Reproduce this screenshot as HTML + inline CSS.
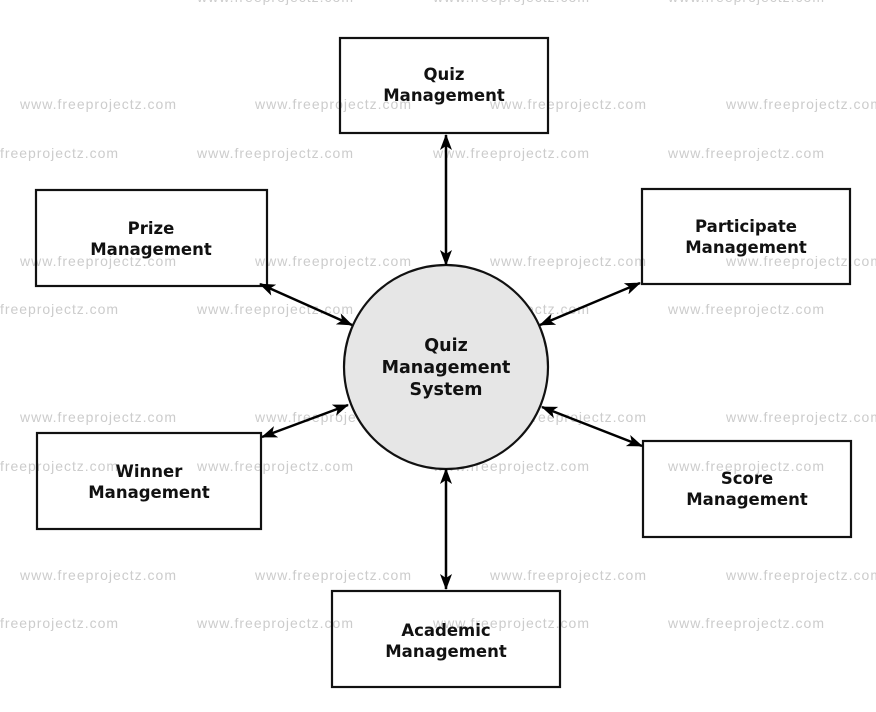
<!DOCTYPE html>
<html><head><meta charset="utf-8"><style>
html,body{margin:0;padding:0;background:#fff;}
svg{display:block;}
.wm{font-family:"Liberation Sans",sans-serif;font-size:14px;fill:#cccccc;}
.lb{font-family:"DejaVu Sans","Liberation Sans",sans-serif;font-weight:bold;font-size:16.5px;fill:#111;text-anchor:middle;}
</style></head><body>
<svg width="876" height="712" viewBox="0 0 876 712" xmlns="http://www.w3.org/2000/svg">
<defs>
<marker id="b" viewBox="0 0 16 12" refX="15" refY="6" markerWidth="16" markerHeight="12" orient="auto-start-reverse" markerUnits="userSpaceOnUse">
<path d="M0,0 L16,6 L0,12 L4,6 z" fill="#000"/></marker>
</defs>
<g class="wm">
<text x="197" y="2" textLength="156">www.freeprojectz.com</text>
<text x="433" y="2" textLength="156">www.freeprojectz.com</text>
<text x="668" y="2" textLength="156">www.freeprojectz.com</text>
<text x="20" y="109" textLength="156">www.freeprojectz.com</text>
<text x="255" y="109" textLength="156">www.freeprojectz.com</text>
<text x="490" y="109" textLength="156">www.freeprojectz.com</text>
<text x="726" y="109" textLength="156">www.freeprojectz.com</text>
<text x="0" y="158" textLength="118">freeprojectz.com</text>
<text x="197" y="158" textLength="156">www.freeprojectz.com</text>
<text x="433" y="158" textLength="156">www.freeprojectz.com</text>
<text x="668" y="158" textLength="156">www.freeprojectz.com</text>
<text x="20" y="266" textLength="156">www.freeprojectz.com</text>
<text x="255" y="266" textLength="156">www.freeprojectz.com</text>
<text x="490" y="266" textLength="156">www.freeprojectz.com</text>
<text x="726" y="266" textLength="156">www.freeprojectz.com</text>
<text x="0" y="314" textLength="118">freeprojectz.com</text>
<text x="197" y="314" textLength="156">www.freeprojectz.com</text>
<text x="433" y="314" textLength="156">www.freeprojectz.com</text>
<text x="668" y="314" textLength="156">www.freeprojectz.com</text>
<text x="20" y="422" textLength="156">www.freeprojectz.com</text>
<text x="255" y="422" textLength="156">www.freeprojectz.com</text>
<text x="490" y="422" textLength="156">www.freeprojectz.com</text>
<text x="726" y="422" textLength="156">www.freeprojectz.com</text>
<text x="0" y="471" textLength="118">freeprojectz.com</text>
<text x="197" y="471" textLength="156">www.freeprojectz.com</text>
<text x="433" y="471" textLength="156">www.freeprojectz.com</text>
<text x="668" y="471" textLength="156">www.freeprojectz.com</text>
<text x="20" y="580" textLength="156">www.freeprojectz.com</text>
<text x="255" y="580" textLength="156">www.freeprojectz.com</text>
<text x="490" y="580" textLength="156">www.freeprojectz.com</text>
<text x="726" y="580" textLength="156">www.freeprojectz.com</text>
<text x="0" y="628" textLength="118">freeprojectz.com</text>
<text x="197" y="628" textLength="156">www.freeprojectz.com</text>
<text x="433" y="628" textLength="156">www.freeprojectz.com</text>
<text x="668" y="628" textLength="156">www.freeprojectz.com</text>
</g>
<g fill="none" stroke="#111" stroke-width="2.2">
<rect x="340" y="38" width="208" height="95"/>
<rect x="36" y="190" width="231" height="96"/>
<rect x="642" y="189" width="208" height="95"/>
<rect x="37" y="433" width="224" height="96"/>
<rect x="643" y="441" width="208" height="96"/>
<rect x="332" y="591" width="228" height="96"/>
</g>
<circle cx="446" cy="367" r="102" fill="#e6e6e6" stroke="#111" stroke-width="2.2"/>
<g stroke="#000" stroke-width="2.5" marker-start="url(#b)" marker-end="url(#b)">
<line x1="446" y1="135" x2="446" y2="265"/>
<line x1="446" y1="469" x2="446" y2="589"/>
<line x1="260" y1="284" x2="352" y2="325"/>
<line x1="640" y1="283" x2="540" y2="325"/>
<line x1="262" y1="437" x2="348" y2="405"/>
<line x1="642" y1="446" x2="542" y2="407"/>
</g>
<g class="lb">
<text x="444" y="80">Quiz</text><text x="444" y="101">Management</text>
<text x="151" y="234">Prize</text><text x="151" y="255">Management</text>
<text x="746" y="232">Participate</text><text x="746" y="253">Management</text>
<text x="149" y="477">Winner</text><text x="149" y="498">Management</text>
<text x="747" y="484">Score</text><text x="747" y="505">Management</text>
<text x="446" y="636">Academic</text><text x="446" y="657">Management</text>
<text x="446" y="351" style="font-size:17.5px">Quiz</text>
<text x="446" y="373" style="font-size:17.5px">Management</text>
<text x="446" y="395" style="font-size:17.5px">System</text>
</g>
</svg>
</body></html>
